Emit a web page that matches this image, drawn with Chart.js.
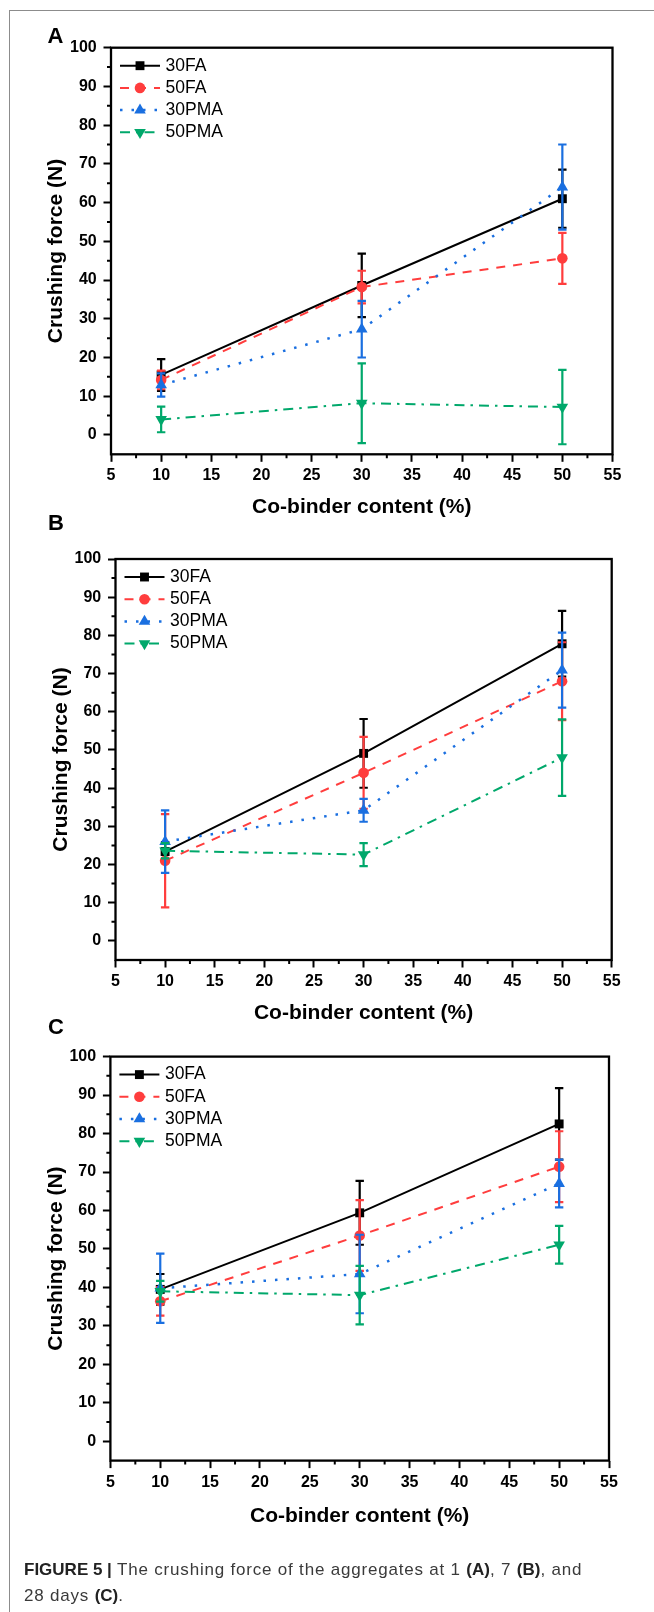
<!DOCTYPE html>
<html>
<head>
<meta charset="utf-8">
<script src="https://cdn.jsdelivr.net/npm/chart.js@4.4.1/dist/chart.umd.min.js"></script>
<style>
  html, body { margin: 0; padding: 0; background: #fff; }
  #page { position: relative; width: 654px; height: 1612px; overflow: hidden; background: #fff; }
  .frame { position: absolute; left: 9px; top: 10px; width: 700px; height: 1700px;
           border-left: 1px solid #8c8c8c; border-top: 1px solid #8c8c8c; }
  canvas { position: absolute; left: 0; top: 0; }
  .plabel { position: absolute; font-family: 'Liberation Sans', Arial, sans-serif; font-weight: bold;
            font-size: 22px; line-height: 22px; color: #000; }
  .caption { position: absolute; left: 24px; top: 1557px; width: 625px; font-family: 'Liberation Sans', Arial, sans-serif;
             font-size: 17px; line-height: 25.7px; color: #3a3a3a; letter-spacing: 0.8px; white-space: nowrap; }
  .caption b { letter-spacing: 0; color: #222; }
</style>
</head>
<body>
<div id="page">
  <div class="frame"></div>
  <canvas id="chartA" width="654" height="1612"></canvas>
  <canvas id="chartB" width="654" height="1612"></canvas>
  <canvas id="chartC" width="654" height="1612"></canvas>
  <div class="plabel" style="left:47.5px; top:25.4px;">A</div>
  <div class="plabel" style="left:48px; top:512.1px;">B</div>
  <div class="plabel" style="left:48px; top:1015.5px;">C</div>
  <div class="caption"><b>FIGURE 5 |</b> The crushing force of the aggregates at 1 <b>(A)</b>, 7 <b>(B)</b>, and<br>28 days <b>(C)</b>.</div>
</div>
<script>
// ---------------- DATA ----------------
const coBinder = [10, 30, 50];                 // Co-binder content (%)
const seriesNames = ['30FA', '50FA', '30PMA', '50PMA'];

// Panel A (1 day)
const a30FA  = [15.5, 38.6, 61.0];  const a30FA_err  = [4.1, 8.2, 7.5];
const a50FA  = [14.2, 38.2, 45.6];  const a50FA_err  = [2.4, 4.2, 6.6];
const a30PMA = [12.9, 27.3, 64.0];  const a30PMA_err = [3.0, 7.3, 11.0];
const a50PMA = [4.0, 8.2, 7.2];     const a50PMA_err = [3.3, 10.3, 9.6];

// Panel B (7 days)
const b30FA  = [23.4, 49.1, 77.8];  const b30FA_err  = [2.5, 9.0, 8.6];
const b50FA  = [21.0, 44.0, 68.0];  const b50FA_err  = [12.2, 9.4, 10.2];
const b30PMA = [26.0, 34.2, 70.9];  const b30PMA_err = [8.2, 3.0, 9.8];
const b50PMA = [23.6, 22.6, 48.0];  const b50PMA_err = [2.0, 3.0, 10.0];

// Panel C (28 days)
const c30FA  = [39.5, 59.4, 82.5];  const c30FA_err  = [4.0, 8.3, 9.3];
const c50FA  = [36.4, 53.5, 71.4];  const c50FA_err  = [3.7, 9.2, 9.2];
const c30PMA = [39.8, 43.5, 67.0];  const c30PMA_err = [9.0, 10.2, 6.2];
const c50PMA = [39.0, 38.0, 51.1];  const c50PMA_err = [2.7, 7.6, 4.9];

// Axis ticks
const yTickValues = [0, 10, 20, 30, 40, 50, 60, 70, 80, 90, 100];
const yMinorTicks = [5, 15, 25, 35, 45, 55, 65, 75, 85, 95];
const xTickValues = [5, 10, 15, 20, 25, 30, 35, 40, 45, 50, 55];
const xMinorTicks = [7.5, 12.5, 17.5, 22.5, 27.5, 32.5, 37.5, 42.5, 47.5, 52.5];
const yRange = [-5, 100];
const xRange = [5, 55];
const xTitle = 'Co-binder content (%)';
const yTitle = 'Crushing force (N)';

// ---------------- STYLE ----------------
const FONT = "'Liberation Sans', Arial, Helvetica, sans-serif";
Chart.defaults.font.family = FONT;
Chart.defaults.color = '#000';

const seriesStyles = [
  { color: '#000000', dash: [],              width: 2,   pointStyle: 'rect',     radius: 6.3, rotation: 0 },
  { color: '#ff3d3d', dash: [9, 8],          width: 2,   pointStyle: 'circle',   radius: 5.3, rotation: 0 },
  { color: '#1a6fe0', dash: [2.5, 9],        width: 2.5, pointStyle: 'triangle', radius: 6.7, rotation: 0 },
  { color: '#00a86b', dash: [10, 6, 2.5, 6], width: 2,   pointStyle: 'triangle', radius: 6.7, rotation: 180 }
];

const panels = [
  { id: 'chartA', ca: { left: 111, right: 612.5, top: 47.7, bottom: 454.3 }, xTitleOff: 53, yTitleOff: 54.5,
    values: [a30FA, a50FA, a30PMA, a50PMA], errors: [a30FA_err, a50FA_err, a30PMA_err, a50PMA_err] },
  { id: 'chartB', ca: { left: 115.5, right: 611.7, top: 559, bottom: 960 }, xTitleOff: 53, yTitleOff: 54.5,
    values: [b30FA, b50FA, b30PMA, b50PMA], errors: [b30FA_err, b50FA_err, b30PMA_err, b50PMA_err] },
  { id: 'chartC', ca: { left: 110.4, right: 609, top: 1056.6, bottom: 1460.6 }, xTitleOff: 56, yTitleOff: 54.5,
    values: [c30FA, c50FA, c30PMA, c50PMA], errors: [c30FA_err, c50FA_err, c30PMA_err, c50PMA_err] }
];

const X_SCALE_H = 70;

// ---------------- PLUGINS ----------------
const errorBarPlugin = {
  id: 'errorBars',
  beforeDatasetDraw(chart, args) {
    const ds = chart.data.datasets[args.index];
    if (!ds.errors) return;
    const xs = chart.scales.x, ys = chart.scales.y, ctx = chart.ctx;
    ctx.save();
    ctx.strokeStyle = ds.borderColor;
    ctx.lineWidth = 2.2;
    ctx.setLineDash([]);
    ctx.lineCap = 'butt';
    ds.data.forEach((pt, i) => {
      const e = ds.errors[i];
      const px = xs.getPixelForValue(pt.x);
      const pTop = ys.getPixelForValue(pt.y + e);
      const pBot = ys.getPixelForValue(pt.y - e);
      ctx.beginPath();
      ctx.moveTo(px, pTop); ctx.lineTo(px, pBot);
      ctx.moveTo(px - 4.2, pTop); ctx.lineTo(px + 4.2, pTop);
      ctx.moveTo(px - 4.2, pBot); ctx.lineTo(px + 4.2, pBot);
      ctx.stroke();
    });
    ctx.restore();
  }
};

const framePlugin = {
  id: 'frameAndMinor',
  afterDraw(chart) {
    const { ctx, chartArea: ca } = chart;
    const xs = chart.scales.x, ys = chart.scales.y;
    ctx.save();
    ctx.setLineDash([]);
    ctx.strokeStyle = '#000';
    ctx.lineWidth = 2;
    ctx.beginPath();
    yMinorTicks.forEach(v => {
      const py = ys.getPixelForValue(v);
      ctx.moveTo(ca.left - 4, py); ctx.lineTo(ca.left, py);
    });
    xMinorTicks.forEach(v => {
      const px = xs.getPixelForValue(v);
      ctx.moveTo(px, ca.bottom); ctx.lineTo(px, ca.bottom + 4);
    });
    ctx.stroke();
    ctx.lineWidth = 2.3;
    ctx.strokeRect(ca.left, ca.top, ca.right - ca.left, ca.bottom - ca.top);
    ctx.restore();
  }
};

const legendPlugin = {
  id: 'lineLegend',
  afterDraw(chart) {
    const { ctx, chartArea: ca } = chart;
    const x0 = ca.left + 9;
    ctx.save();
    chart.data.datasets.forEach((ds, i) => {
      const y = ca.top + 18 + i * 22.2;
      ctx.setLineDash(ds.borderDash || []);
      ctx.strokeStyle = ds.borderColor;
      ctx.lineWidth = ds.borderWidth;
      ctx.beginPath();
      ctx.moveTo(x0, y); ctx.lineTo(x0 + 40, y);
      ctx.stroke();
      ctx.setLineDash([]);
      ctx.fillStyle = ds.pointBackgroundColor;
      ctx.strokeStyle = ds.pointBorderColor;
      Chart.helpers.drawPoint(ctx, {
        pointStyle: ds.pointStyle, rotation: ds.pointRotation,
        radius: ds.pointRadius, borderWidth: 0
      }, x0 + 20, y);
      ctx.fillStyle = '#000';
      ctx.font = '17.5px ' + FONT;
      ctx.textBaseline = 'middle';
      ctx.textAlign = 'left';
      ctx.fillText(ds.label, x0 + 45.5, y);
    });
    ctx.restore();
  }
};

// ---------------- CHARTS ----------------
function makeChart(p) {
  const canvas = document.getElementById(p.id);
  const datasets = seriesNames.map((name, k) => {
    const st = seriesStyles[k];
    return {
      label: name,
      data: coBinder.map((x, i) => ({ x: x, y: p.values[k][i] })),
      errors: p.errors[k],
      borderColor: st.color,
      backgroundColor: st.color,
      borderWidth: st.width,
      borderDash: st.dash,
      borderCapStyle: 'butt',
      pointStyle: st.pointStyle,
      pointRadius: st.radius,
      pointRotation: st.rotation,
      pointBackgroundColor: st.color,
      pointBorderColor: st.color,
      pointBorderWidth: 0,
      pointHoverRadius: st.radius,
      tension: 0,
      fill: false,
      clip: false,
      order: 4 - k
    };
  });
  const ca = p.ca;
  return new Chart(canvas, {
    type: 'line',
    data: { datasets },
    options: {
      responsive: false,
      animation: false,
      devicePixelRatio: 1,
      events: [],
      layout: { padding: { left: 0, top: ca.top, right: 654 - ca.right, bottom: 1612 - ca.bottom - X_SCALE_H } },
      plugins: { legend: { display: false }, tooltip: { enabled: false } },
      scales: {
        x: {
          type: 'linear', min: xRange[0], max: xRange[1],
          afterBuildTicks: s => { s.ticks = xTickValues.map(v => ({ value: v })); },
          afterFit: s => { s.height = X_SCALE_H; },
          grid: { display: true, drawOnChartArea: false, drawTicks: true, tickLength: 7.5, tickWidth: 2, tickColor: '#000' },
          border: { display: false },
          ticks: { color: '#000', font: { size: 16, weight: 'bold' }, padding: 4.6, maxRotation: 0, autoSkip: false },
          title: { display: true, text: xTitle, color: '#000', font: { size: 21, weight: 'bold' },
                   padding: { top: 0, bottom: X_SCALE_H - 12.6 - p.xTitleOff } }
        },
        y: {
          type: 'linear', min: yRange[0], max: yRange[1],
          afterBuildTicks: s => { s.ticks = yTickValues.map(v => ({ value: v })); },
          afterFit: s => { s.width = ca.left; },
          grid: { display: true, drawOnChartArea: false, drawTicks: true, tickLength: 7.5, tickWidth: 2, tickColor: '#000' },
          border: { display: false },
          ticks: { color: '#000', font: { size: 16, weight: 'bold' }, padding: 6.8, autoSkip: false },
          title: { display: true, text: yTitle, color: '#000', font: { size: 21, weight: 'bold' },
                   padding: { top: ca.left - p.yTitleOff - 12.6, bottom: 0 } }
        }
      }
    },
    plugins: [errorBarPlugin, framePlugin, legendPlugin]
  });
}

panels.forEach(makeChart);
</script>
</body>
</html>
